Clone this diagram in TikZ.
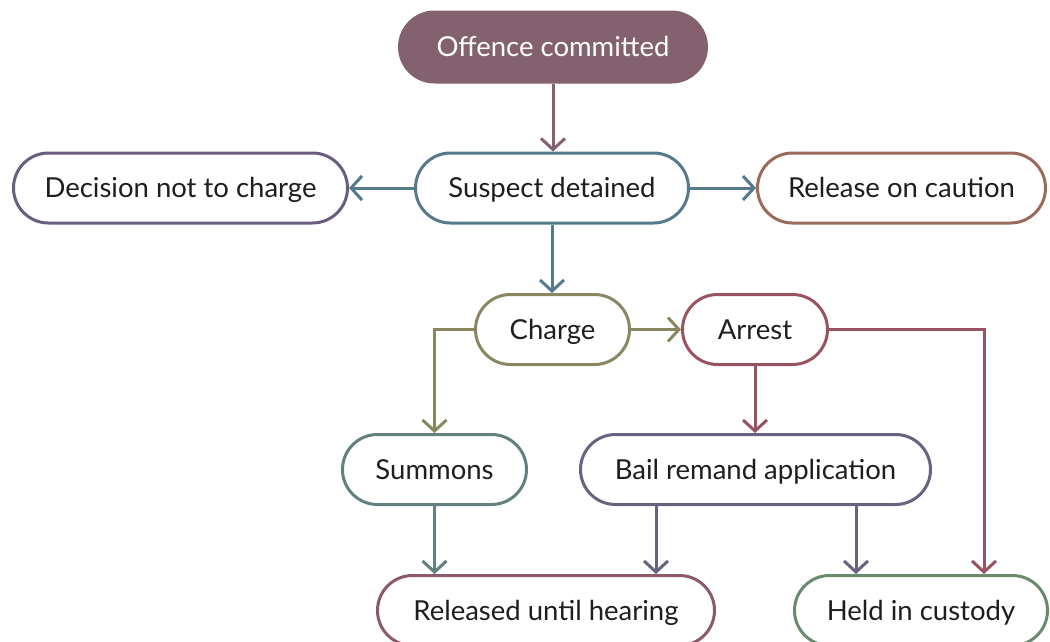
\documentclass[tikz,border=0pt]{standalone}
\usepackage{fontspec}
\setmainfont{Lato}
\usetikzlibrary{arrows.meta}
\definecolor{cOffence}{HTML}{83616F}
\definecolor{cSuspect}{HTML}{557A8A}
\definecolor{cDecision}{HTML}{6A5E80}
\definecolor{cRelease}{HTML}{9A6A5A}
\definecolor{cCharge}{HTML}{8A8760}
\definecolor{cArrest}{HTML}{99525F}
\definecolor{cSummons}{HTML}{62807F}
\definecolor{cBail}{HTML}{6A6080}
\definecolor{cReleased}{HTML}{8A5A6A}
\definecolor{cHeld}{HTML}{6A8A6E}
\definecolor{cText}{HTML}{1E1E1E}
\tikzset{
  box/.style={draw=#1, line width=3pt, rounded corners=35pt, fill=white,
    minimum height=70pt, inner sep=0pt, text=cText,
    text height=19.8pt, text depth=0pt,
    font=\fontsize{27.5}{30}\selectfont},
  flow/.style={draw=#1, line width=3pt,
    -{Straight Barb[length=11pt,width=24pt,line width=3pt]}},
}
\begin{document}
\begin{tikzpicture}[x=1pt,y=-1pt]
\useasboundingbox (0,0) rectangle (1050,641);

% process steps
\node[box=cOffence, fill=cOffence, text=white, minimum width=307pt] (offence) at (553,47) {Offence committed};
\node[box=cSuspect, minimum width=273pt] (suspect) at (552,188) {Suspect detained};
\node[box=cDecision, minimum width=334pt] (decision) at (180.5,188) {Decision not to charge};
\node[box=cRelease, minimum width=288pt] (release) at (901.5,188) {Release on caution};
\node[box=cCharge, minimum width=154pt] (charge) at (552.5,329.5) {Charge};
\node[box=cArrest, minimum width=145pt] (arrest) at (755,329.5) {Arrest};
\node[box=cSummons, minimum width=184pt] (summons) at (434.5,469.5) {Summons};
\node[box=cBail, minimum width=350pt] (bail) at (755.5,469.5) {Bail remand application};
\node[box=cReleased, minimum width=337pt] (released) at (546,610.5) {Released until hearing};
\node[box=cHeld, minimum width=253pt] (held) at (921,610.5) {Held in custody};

% connectors
\draw[flow=cOffence] (offence.south) -- (offence.south |- suspect.north);
\draw[flow=cSuspect] (suspect.west) -- (decision.east);
\draw[flow=cSuspect] (suspect.east) -- (release.west);
\draw[flow=cSuspect] (suspect.south) -- (suspect.south |- charge.north);
\draw[flow=cCharge] (charge.east) -- (arrest.west);
\draw[flow=cCharge] (charge.west) -| (summons.north);
\draw[flow=cArrest] (arrest.south) -- (arrest.south |- bail.north);
\draw[flow=cArrest] (arrest.east) -| ([xshift=63pt]held.north);
\draw[flow=cSummons] (summons.south) -- (summons.south |- released.north);
\draw[flow=cBail] ([xshift=-99.5pt]bail.south) -- ([xshift=-99.5pt]bail.south |- released.north);
\draw[flow=cBail] ([xshift=100.5pt]bail.south) -- ([xshift=100.5pt]bail.south |- held.north);
\end{tikzpicture}
\end{document}
